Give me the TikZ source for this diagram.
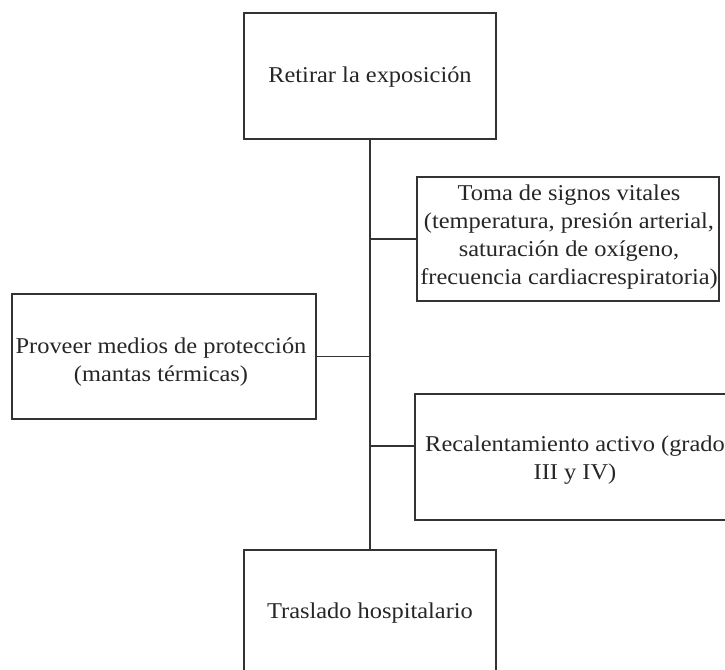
\documentclass[tikz,border=0pt]{standalone}
\usepackage{fontspec}
\setmainfont{Liberation Serif}
\usepackage{graphicx}
\usepackage{tikz}

% text is a little wider than high in the reference
\renewcommand{\arraystretch}{1.26}
\newcommand{\wtxt}[1]{\scalebox{1.08}[1]{\begin{tabular}{@{}c@{}}#1\end{tabular}}}

\begin{document}
\begin{tikzpicture}[x=0.5pt, y=-0.5pt,
        box/.style={draw=black!80, line width=0.9pt, inner sep=0pt},
        txt/.style={inner sep=0pt, text=black!85, font=\fontsize{11.3}{11.2}\selectfont}]
            \useasboundingbox (0,0) rectangle (725,670);
            \def\bw{126pt}
            \def\bh{63pt}
            % boxes
            \node[box, minimum width=\bw, minimum height=\bh] (retirar) at (370,76) {};
            \node[box, minimum width=151pt, minimum height=62pt] (signos) at (568,239) {};
            \node[box, minimum width=152pt, minimum height=62.5pt] (proteccion) at (164,356.5) {};
            \node[box, minimum width=159pt, minimum height=\bh] (recal) at (574,457) {};
            \node[box, minimum width=\bw, minimum height=\bh] (traslado) at (370,613) {};
            % texts
            \node[txt] (retirart) at (370,77) {\wtxt{Retirar la exposición}};
            \node[txt] (signost) at (569,237) {\wtxt{Toma de signos vitales\\(temperatura, presión arterial,\\saturación de oxígeno,\\frecuencia cardiacrespiratoria)}};
            \node[txt] (protecciont) at (161,362) {\wtxt{Proveer medios de protección\\(mantas térmicas)}};
            \node[txt] (recalt) at (575,460) {\wtxt{Recalentamiento activo (grado\\III y IV)}};
            \node[txt] (trasladot) at (370,613) {\wtxt{Traslado hospitalario}};
            % trunk and branches
            \draw[box] (retirar.south) -- (traslado.north);
            \draw[box] (signos.west) -- (signos.west -| retirar.south);
            \draw[box] (proteccion.east) -- (proteccion.east -| retirar.south);
            \draw[box] (recal.176) -- (recal.176 -| retirar.south);
        \end{tikzpicture}
\end{document}
